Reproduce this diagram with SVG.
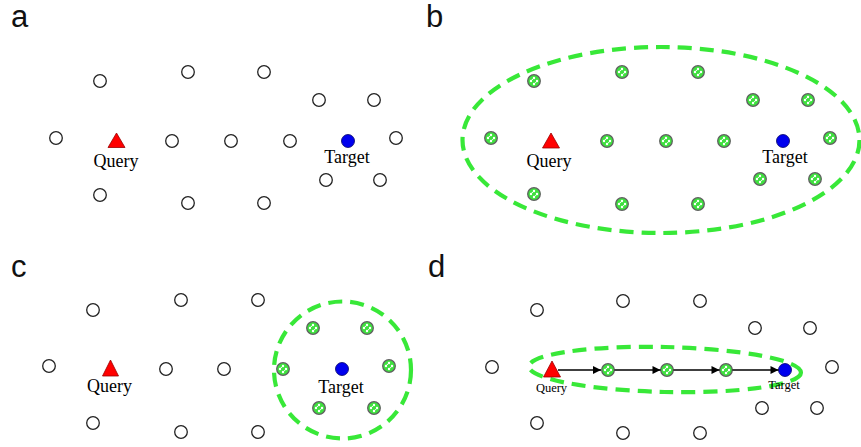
<svg xmlns="http://www.w3.org/2000/svg" xmlns:xlink="http://www.w3.org/1999/xlink" width="861" height="447" viewBox="0 0 861 447">
  <style>
    .panel-label { font-family: "Liberation Sans", Arial, sans-serif; font-size: 31px; fill: #111; }
    .name { font-family: "Liberation Serif", "Times New Roman", serif; font-size: 18px; fill: #000; text-anchor: middle; }
    .name-sm { font-family: "Liberation Serif", "Times New Roman", serif; font-size: 12.5px; fill: #000; text-anchor: middle; }
    .node { fill: #fff; stroke: #222; stroke-width: 1.3; }
    .query { fill: #f00; stroke: #900; stroke-width: 0.8; }
    .target { fill: #0000ee; stroke: #000066; stroke-width: 0.8; }
    .region { fill: none; stroke: #38e838; stroke-width: 4.2; stroke-dasharray: 14 8; }
    .edge { stroke: #000; stroke-width: 1.4; fill: none; marker-end: url(#arrow); }
  </style>
  <defs>
    <!-- neighbour node: green disc with a white speckle -->
    <g id="gnode">
      <circle r="6.3" fill="#3ee03e" stroke="#606060" stroke-width="1.3"/>
      <circle cx="0" cy="-3" r="1.2" fill="#fff"/>
      <circle cx="-3" cy="0" r="1.2" fill="#fff"/>
      <circle cx="3" cy="0" r="1.2" fill="#fff"/>
      <circle cx="0" cy="3" r="1.2" fill="#fff"/>
      <circle cx="-1.6" cy="-1.6" r="0.7" fill="#e8ffe8"/>
      <circle cx="1.6" cy="1.6" r="0.7" fill="#e8ffe8"/>
    </g>
    <circle id="wnode" r="6.3" class="node"/>
    <marker id="arrow" viewBox="0 0 10 10" refX="10" refY="5" markerWidth="9" markerHeight="8" markerUnits="userSpaceOnUse" orient="auto">
      <path d="M0,0 L10,5 L0,10 z" fill="#000"/>
    </marker>
  </defs>
  <rect width="861" height="447" fill="#fff"/>

  <!-- panel labels -->
  <text class="panel-label" x="11" y="27">a</text>
  <text class="panel-label" x="426" y="27">b</text>
  <text class="panel-label" x="11" y="277">c</text>
  <text class="panel-label" x="428" y="277">d</text>

  <!-- ===== panel a: all candidate nodes ===== -->
  <g id="panel-a">
    <g id="a-n1"><use xlink:href="#wnode" x="100" y="81"/></g>
    <g id="a-n2"><use xlink:href="#wnode" x="188" y="72"/></g>
    <g id="a-n3"><use xlink:href="#wnode" x="264" y="72"/></g>
    <g id="a-n4"><use xlink:href="#wnode" x="319" y="100"/></g>
    <g id="a-n5"><use xlink:href="#wnode" x="374" y="100"/></g>
    <g id="a-n6"><use xlink:href="#wnode" x="56" y="138"/></g>
    <g id="a-n7"><use xlink:href="#wnode" x="172" y="141"/></g>
    <g id="a-n8"><use xlink:href="#wnode" x="231" y="141"/></g>
    <g id="a-n9"><use xlink:href="#wnode" x="290" y="141"/></g>
    <g id="a-n10"><use xlink:href="#wnode" x="396" y="138"/></g>
    <g id="a-n11"><use xlink:href="#wnode" x="326" y="180"/></g>
    <g id="a-n12"><use xlink:href="#wnode" x="380" y="180"/></g>
    <g id="a-n13"><use xlink:href="#wnode" x="100" y="195"/></g>
    <g id="a-n14"><use xlink:href="#wnode" x="188" y="203"/></g>
    <g id="a-n15"><use xlink:href="#wnode" x="264" y="203"/></g>
    <g id="a-query">
      <polygon class="query" points="116.5,133 125,147.5 108,147.5"/>
      <text class="name" x="116" y="167">Query</text>
    </g>
    <g id="a-target">
      <circle class="target" cx="348" cy="141" r="6.5"/>
      <text class="name" x="347" y="162.5">Target</text>
    </g>
  </g>

  <!-- ===== panel b: every node inside the search region ===== -->
  <g id="panel-b">
    <g id="b-region"><ellipse class="region" cx="661" cy="140" rx="198.5" ry="93"/></g>
    <g id="b-n1"><use xlink:href="#gnode" x="534" y="81"/></g>
    <g id="b-n2"><use xlink:href="#gnode" x="622" y="72"/></g>
    <g id="b-n3"><use xlink:href="#gnode" x="698" y="72"/></g>
    <g id="b-n4"><use xlink:href="#gnode" x="753" y="100"/></g>
    <g id="b-n5"><use xlink:href="#gnode" x="808" y="100"/></g>
    <g id="b-n6"><use xlink:href="#gnode" x="491" y="138"/></g>
    <g id="b-n7"><use xlink:href="#gnode" x="607" y="141"/></g>
    <g id="b-n8"><use xlink:href="#gnode" x="666" y="141"/></g>
    <g id="b-n9"><use xlink:href="#gnode" x="724" y="141"/></g>
    <g id="b-n10"><use xlink:href="#gnode" x="830" y="138"/></g>
    <g id="b-n11"><use xlink:href="#gnode" x="760" y="179"/></g>
    <g id="b-n12"><use xlink:href="#gnode" x="815" y="179"/></g>
    <g id="b-n13"><use xlink:href="#gnode" x="534" y="194"/></g>
    <g id="b-n14"><use xlink:href="#gnode" x="622" y="204"/></g>
    <g id="b-n15"><use xlink:href="#gnode" x="698" y="204"/></g>
    <g id="b-query">
      <polygon class="query" points="551,133 559.5,148 542.5,148"/>
      <text class="name" x="549" y="167">Query</text>
    </g>
    <g id="b-target">
      <circle class="target" cx="783" cy="141" r="6.5"/>
      <text class="name" x="785" y="163">Target</text>
    </g>
  </g>

  <!-- ===== panel c: neighbourhood around the target ===== -->
  <g id="panel-c">
    <g id="c-region"><circle class="region" cx="342.5" cy="370" r="68.5"/></g>
    <g id="c-n1"><use xlink:href="#wnode" x="93" y="310"/></g>
    <g id="c-n2"><use xlink:href="#wnode" x="181" y="300"/></g>
    <g id="c-n3"><use xlink:href="#wnode" x="258" y="300"/></g>
    <g id="c-n4"><use xlink:href="#gnode" x="313" y="328"/></g>
    <g id="c-n5"><use xlink:href="#gnode" x="367" y="328"/></g>
    <g id="c-n6"><use xlink:href="#wnode" x="49" y="366"/></g>
    <g id="c-n7"><use xlink:href="#wnode" x="166" y="369"/></g>
    <g id="c-n8"><use xlink:href="#wnode" x="224" y="369"/></g>
    <g id="c-n9"><use xlink:href="#gnode" x="283" y="369"/></g>
    <g id="c-n10"><use xlink:href="#gnode" x="389" y="366"/></g>
    <g id="c-n11"><use xlink:href="#gnode" x="319" y="408"/></g>
    <g id="c-n12"><use xlink:href="#gnode" x="374" y="408"/></g>
    <g id="c-n13"><use xlink:href="#wnode" x="93" y="423"/></g>
    <g id="c-n14"><use xlink:href="#wnode" x="181" y="432"/></g>
    <g id="c-n15"><use xlink:href="#wnode" x="258" y="432"/></g>
    <g id="c-query">
      <polygon class="query" points="110.5,360 118.5,376 102.5,376"/>
      <text class="name" x="109.5" y="392">Query</text>
    </g>
    <g id="c-target">
      <circle class="target" cx="342" cy="369" r="6.5"/>
      <text class="name" x="341" y="392.5">Target</text>
    </g>
  </g>

  <!-- ===== panel d: path from query to target ===== -->
  <g id="panel-d">
    <g id="d-region"><ellipse class="region" cx="665" cy="369.5" rx="136" ry="22.5" transform="rotate(1.3 665 369.5)"/></g>
    <g id="d-n1"><use xlink:href="#wnode" x="537" y="310"/></g>
    <g id="d-n2"><use xlink:href="#wnode" x="623" y="301"/></g>
    <g id="d-n3"><use xlink:href="#wnode" x="700" y="301"/></g>
    <g id="d-n4"><use xlink:href="#wnode" x="755" y="328"/></g>
    <g id="d-n5"><use xlink:href="#wnode" x="810" y="328"/></g>
    <g id="d-n6"><use xlink:href="#wnode" x="492" y="367"/></g>
    <g id="d-n7"><use xlink:href="#wnode" x="832" y="367"/></g>
    <g id="d-n8"><use xlink:href="#wnode" x="762" y="408"/></g>
    <g id="d-n9"><use xlink:href="#wnode" x="817" y="408"/></g>
    <g id="d-n10"><use xlink:href="#wnode" x="537" y="423"/></g>
    <g id="d-n11"><use xlink:href="#wnode" x="623" y="433"/></g>
    <g id="d-n12"><use xlink:href="#wnode" x="700" y="433"/></g>
    <g id="d-hop1"><use xlink:href="#gnode" x="608" y="370"/></g>
    <g id="d-hop2"><use xlink:href="#gnode" x="667" y="370"/></g>
    <g id="d-hop3"><use xlink:href="#gnode" x="726" y="370"/></g>
    <g id="d-query">
      <polygon class="query" points="552,361 560.5,377 543.5,377"/>
      <text class="name-sm" x="551.5" y="392">Query</text>
    </g>
    <g id="d-target">
      <circle class="target" cx="785" cy="370" r="6.5"/>
      <text class="name-sm" x="784" y="389">Target</text>
    </g>
  </g>

  <!-- connectors -->
  <g id="edges">
    <line class="edge" x1="558" y1="370" x2="601" y2="370"/>
    <line class="edge" x1="614.5" y1="370" x2="660.5" y2="370"/>
    <line class="edge" x1="673.5" y1="370" x2="719.5" y2="370"/>
    <line class="edge" x1="732.5" y1="370" x2="778.5" y2="370"/>
  </g>
</svg>
